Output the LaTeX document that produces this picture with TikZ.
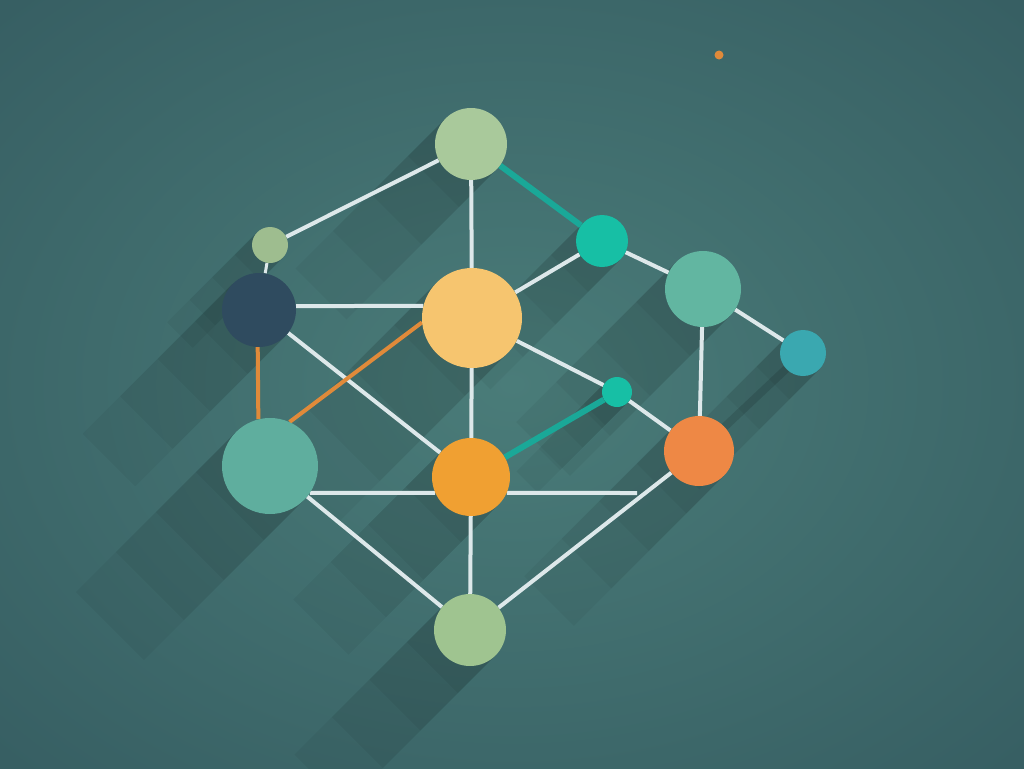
\documentclass[tikz,border=0pt]{standalone}
\usetikzlibrary{backgrounds}
\definecolor{bgout}{HTML}{375F63}
\definecolor{bgin}{HTML}{4A7C79}
\definecolor{edgew}{HTML}{DDE8EA}
\definecolor{edget}{HTML}{1AA898}
\definecolor{edgeo}{HTML}{E08A3A}
\definecolor{csage}{HTML}{A9C99B}
\definecolor{csage2}{HTML}{9EBD8F}
\definecolor{cnavy}{HTML}{2F4B5F}
\definecolor{cyel}{HTML}{F6C56F}
\definecolor{cteal}{HTML}{17BFA5}
\definecolor{cmint}{HTML}{62B6A1}
\definecolor{ccyan}{HTML}{3AA8B0}
\definecolor{corg}{HTML}{F0A032}
\definecolor{corg2}{HTML}{EE8845}
\definecolor{cltea}{HTML}{5FAE9E}
\definecolor{cbot}{HTML}{9FC490}
\begin{document}
\begin{tikzpicture}[x=1pt,y=-1pt,
  dot/.style={circle,inner sep=0pt,minimum size=#1},
  wedge/.style={draw=edgew,line width=4pt},
  tedge/.style={draw=edget,line width=6pt},
  oedge/.style={draw=edgeo,line width=4pt},
  shad/.style={line width=#1,draw=black,draw opacity=0.045,line cap=butt}]
\useasboundingbox (0,0) rectangle (1024,768);
% nodes
\node[dot=72pt,fill=csage]  (top) at (471,144) {};
\node[dot=36pt,fill=csage2] (sl)  at (270,245) {};
\node[dot=74pt,fill=cnavy]  (nv)  at (259,310) {};
\node[dot=100pt,fill=cyel]  (ye)  at (472,318) {};
\node[dot=52pt,fill=cteal]  (tr)  at (602,241) {};
\node[dot=76pt,fill=cmint]  (mi)  at (703,289) {};
\node[dot=46pt,fill=ccyan]  (cy)  at (803,353) {};
\node[dot=30pt,fill=cteal]  (st)  at (617,392) {};
\node[dot=78pt,fill=corg]   (oc)  at (471,477) {};
\node[dot=70pt,fill=corg2]  (orr) at (699,451) {};
\node[dot=96pt,fill=cltea]  (lt)  at (270,466) {};
\node[dot=72pt,fill=cbot]   (bo)  at (470,630) {};
\node[dot=9pt,fill=edgeo]   (td)  at (719,55) {};
\coordinate (j) at (637,493);
\begin{scope}[on background layer]
  \shade[inner color=bgin,outer color=bgout] (-200,-150) rectangle (1224,918);
  % long soft shadows
  \foreach \n/\w/\l in {top/72/150,sl/36/90,nv/74/150,ye/100/170,tr/52/130,mi/76/160,cy/46/120,st/30/90,oc/78/150,orr/70/150,lt/96/160,bo/72/150}{
    \foreach \f in {0.25,0.5,0.75,1}{
      \draw[shad=\w pt] (\n.center) -- ++(-\f*\l,\f*\l);
    }
  }
  \draw[shad=8pt,draw opacity=0.12] (cy) -- (orr);
  % edges
  \draw[wedge] (top) -- (sl);
  \draw[wedge] (top) -- (ye);
  \draw[tedge] (top) -- (tr);
  \draw[wedge] (tr) -- (ye);
  \draw[wedge] (tr) -- (mi);
  \draw[wedge] (mi) -- (cy);
  \draw[wedge] (mi) -- (orr);
  \draw[wedge,line width=3pt] (sl) -- (nv);
  \draw[wedge] (nv.6) -- (ye.166);
  \draw[wedge] (nv) -- (oc);
  \draw[oedge] (nv.-92) -- (lt.104);
  \draw[oedge] (lt.66) -- (ye.185);
  \draw[wedge] (ye) -- (oc);
  \draw[wedge] (ye) -- (st);
  \draw[wedge] (st) -- (orr);
  \draw[tedge] (st) -- (oc);
  \draw[wedge] (lt.-34) -- (oc.204);
  \draw[wedge] (oc.-24) -- (j);
  \draw[wedge] (lt) -- (bo);
  \draw[wedge] (oc) -- (bo);
  \draw[wedge] (orr) -- (bo);
\end{scope}
\end{tikzpicture}
\end{document}
